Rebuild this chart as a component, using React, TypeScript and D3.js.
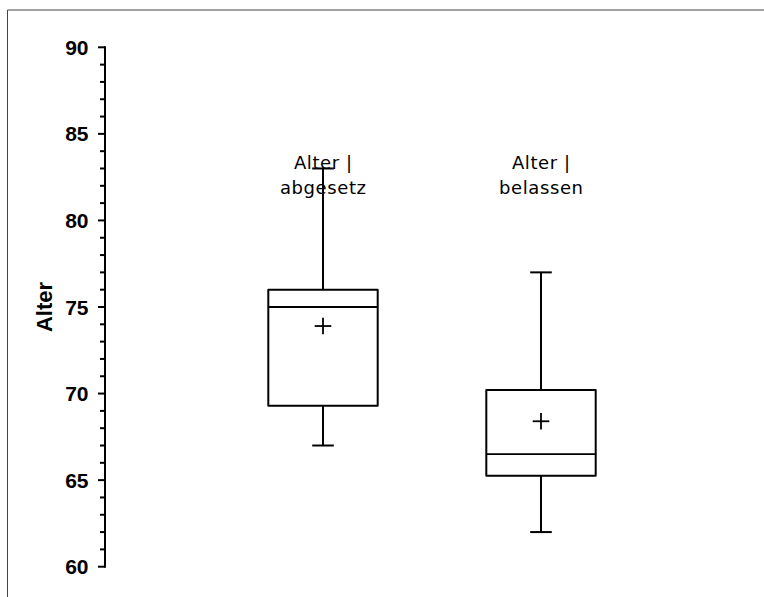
import React, { useEffect, useRef } from "react";
import * as d3 from "d3";

// Box plot summary per group
const groups = ["Alter |\nabgesetz", "Alter |\nbelassen"];
const whiskerLow = [67.0, 62.0];
const q1 = [69.3, 65.25];
const median = [75.0, 66.5];
const q3 = [76.0, 70.2];
const whiskerHigh = [83.0, 77.0];
const means = [73.9, 68.4];

const yMajorTicks = [60, 65, 70, 75, 80, 85, 90];
const yTitle = "Alter";

const W = 764;
const H = 597;

export default function App() {
  const ref = useRef<SVGSVGElement | null>(null);

  useEffect(() => {
    const svg = d3.select(ref.current);
    svg.selectAll("*").remove();

    const y = d3.scaleLinear().domain([60, 90]).range([566.7, 47.3]);
    const x = d3.scaleLinear().domain([0, 1]).range([323, 541]);
    const axisX = 105;

    // frame
    svg.append("line").attr("x1", 7.5).attr("x2", W).attr("y1", 10).attr("y2", 10)
      .attr("stroke", "#444").attr("stroke-width", 1);
    svg.append("line").attr("x1", 7.5).attr("x2", 7.5).attr("y1", 10).attr("y2", H)
      .attr("stroke", "#444").attr("stroke-width", 1);

    // y axis
    const g = svg.append("g");
    g.append("line").attr("x1", axisX).attr("x2", axisX)
      .attr("y1", y(90) - 1).attr("y2", y(60) + 1)
      .attr("stroke", "#000").attr("stroke-width", 2);
    const minor = d3.range(60, 91, 1);
    g.selectAll("line.tick").data(minor).join("line")
      .attr("class", "tick")
      .attr("x1", (d) => (d % 5 === 0 ? axisX - 7 : axisX - 5))
      .attr("x2", axisX)
      .attr("y1", (d) => y(d)).attr("y2", (d) => y(d))
      .attr("stroke", "#000").attr("stroke-width", 2);
    g.selectAll("text.tl").data(yMajorTicks).join("text")
      .attr("class", "tl")
      .attr("x", 88.5).attr("y", (d) => y(d)).attr("dy", "0.36em")
      .attr("text-anchor", "end")
      .attr("font-family", "Liberation Sans, Arial, sans-serif")
      .attr("font-weight", "bold").attr("font-size", 21)
      .text((d) => d);
    g.append("text")
      .attr("transform", `translate(51.5, ${(y(60) + y(90)) / 2}) rotate(-90)`)
      .attr("text-anchor", "middle")
      .attr("font-family", "Liberation Sans, Arial, sans-serif")
      .attr("font-weight", "bold").attr("font-size", 22)
      .text(yTitle);

    // boxes
    const boxHalf = 54.7;
    const capHalf = 10.8;
    const plusHalf = 8.3;
    groups.forEach((label, i) => {
      const cx = x(i);
      const bg = svg.append("g").attr("stroke", "#000").attr("fill", "none");
      // whiskers
      bg.append("line").attr("x1", cx).attr("x2", cx)
        .attr("y1", y(q3[i])).attr("y2", y(whiskerHigh[i])).attr("stroke-width", 2);
      bg.append("line").attr("x1", cx).attr("x2", cx)
        .attr("y1", y(q1[i])).attr("y2", y(whiskerLow[i])).attr("stroke-width", 2);
      bg.append("line").attr("x1", cx - capHalf).attr("x2", cx + capHalf)
        .attr("y1", y(whiskerHigh[i])).attr("y2", y(whiskerHigh[i])).attr("stroke-width", 2);
      bg.append("line").attr("x1", cx - capHalf).attr("x2", cx + capHalf)
        .attr("y1", y(whiskerLow[i])).attr("y2", y(whiskerLow[i])).attr("stroke-width", 2);
      // box
      bg.append("rect").attr("x", cx - boxHalf).attr("width", boxHalf * 2)
        .attr("y", y(q3[i])).attr("height", y(q1[i]) - y(q3[i]))
        .attr("stroke-width", 2).attr("stroke-linejoin", "round");
      bg.append("line").attr("x1", cx - boxHalf).attr("x2", cx + boxHalf)
        .attr("y1", y(median[i])).attr("y2", y(median[i])).attr("stroke-width", 1.8);
      // mean
      bg.append("line").attr("x1", cx - plusHalf).attr("x2", cx + plusHalf)
        .attr("y1", y(means[i])).attr("y2", y(means[i])).attr("stroke-width", 1.8);
      bg.append("line").attr("x1", cx).attr("x2", cx)
        .attr("y1", y(means[i]) - plusHalf).attr("y2", y(means[i]) + plusHalf).attr("stroke-width", 1.8);
      // label
      const t = svg.append("text")
        .attr("text-anchor", "middle")
        .attr("font-family", "DejaVu Sans, sans-serif")
        .attr("font-size", 18).attr("letter-spacing", 0.6).attr("fill", "#000");
      label.split("\n").forEach((line, k) => {
        t.append("tspan").attr("x", cx + 0.3).attr("y", 168.5 + k * 25.5).text(line);
      });
    });
  }, []);

  return (
    <svg
      ref={ref}
      width={W}
      height={H}
      style={{ position: "fixed", left: 0, top: 0, background: "#fff" }}
    />
  );
}
